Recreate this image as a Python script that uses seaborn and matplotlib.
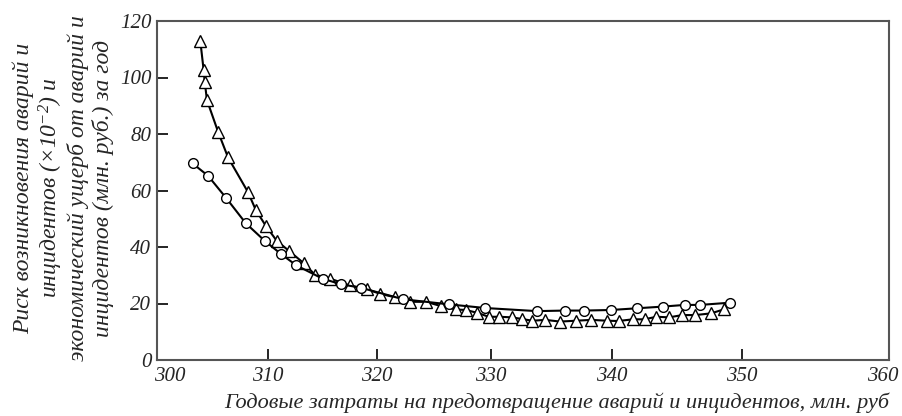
import numpy as np
import pandas as pd
import seaborn as sns
import matplotlib.pyplot as plt
from matplotlib.transforms import ScaledTranslation

sns.set_style("ticks")
plt.rcParams['font.family'] = ['Liberation Serif', 'DejaVu Serif']
plt.rcParams['font.style'] = 'italic'
plt.rcParams['mathtext.fontset'] = 'custom'
plt.rcParams['mathtext.rm'] = 'Liberation Serif'
plt.rcParams['mathtext.it'] = 'Liberation Serif:italic'

# кружки - экономический ущерб
circ_x = [303.2, 304.6, 306.2, 308.0, 309.7, 311.2, 312.6, 315.0, 316.7, 318.5,
          322.3, 326.3, 329.5, 333.8, 336.1, 337.7, 339.9, 341.9, 343.9, 345.6,
          346.8, 349.1]
circ_y = [69.6, 65.2, 57.5, 48.4, 42.2, 37.5, 33.5, 28.8, 26.8, 25.6,
          21.5, 19.7, 18.4, 17.3, 17.5, 17.5, 17.7, 18.3, 18.9, 19.5,
          19.5, 20.3]

# треугольники - риск
tri_x = [303.9, 304.2, 304.3, 304.5, 305.5, 306.4, 308.2, 308.9, 309.8, 310.8,
         311.9, 313.3, 314.3, 315.7, 317.5, 319.1, 320.3, 321.6, 322.9, 324.3,
         325.6, 326.9, 327.8, 328.8, 329.8, 330.7, 331.7, 332.6, 333.4, 334.5,
         335.7, 337.0, 338.3, 339.6, 340.5, 341.6, 342.5, 343.4, 344.4, 345.4,
         346.4, 347.6, 348.6]
tri_y = [113, 102.7, 98.5, 92, 80.8, 71.7, 59.4, 53.1, 47.5, 42.2,
         38.7, 34.2, 30.2, 28.8, 26.4, 25, 23.4, 22.2, 20.6, 20.6,
         19.1, 17.9, 17.7, 16.7, 15.3, 15.3, 15.1, 14.5, 13.9, 14.2,
         13.6, 13.9, 14.2, 13.9, 13.8, 14.4, 14.4, 15.3, 15.1, 15.9,
         15.9, 16.5, 17.9]

x_ticks = [300, 310, 320, 330, 340, 350, 360]
y_ticks = [0, 20, 40, 60, 80, 100, 120]

# шкала оси X в оригинале неравномерная
x_tick_pos = [0, 111, 220, 334, 455, 585, 732]


def fwd(v):
    return np.interp(v, x_ticks, x_tick_pos)


def inv(v):
    return np.interp(v, x_tick_pos, x_ticks)


df_c = pd.DataFrame({'x': circ_x, 'y': circ_y})
df_t = pd.DataFrame({'x': tri_x, 'y': tri_y})

fig = plt.figure(figsize=(9.02, 4.16), dpi=100)
ax = fig.add_axes([157 / 902, 56 / 416, 732 / 902, 339 / 416])
ax.set_xscale('function', functions=(fwd, inv))

sns.lineplot(data=df_t, x='x', y='y', sort=False, ax=ax, color='black', lw=1.5,
             marker='^', markersize=8, markerfacecolor='white',
             markeredgecolor='black', markeredgewidth=1.0)
sns.lineplot(data=df_c, x='x', y='y', sort=False, ax=ax, color='black', lw=1.5,
             marker='o', markersize=7, markerfacecolor='white',
             markeredgecolor='black', markeredgewidth=1.0)

ax.set_xlim(300, 360)
ax.set_ylim(0, 120)
ax.set_xticks(x_ticks)
ax.set_yticks(y_ticks)
ax.set_xticklabels([str(t) for t in x_ticks])
ax.set_yticklabels([str(t) for t in y_ticks])
ax.tick_params(direction='in', length=8, width=1.2, color='black',
               labelsize=15, pad=4)
ax.tick_params(axis='x', pad=5)
for s in ax.spines.values():
    s.set_color('#555555')
    s.set_linewidth(1.5)

# сдвиг крайних подписей оси X как в оригинале
xt = ax.xaxis.get_major_ticks()
xt[0].label1.set_transform(xt[0].label1.get_transform() +
                           ScaledTranslation(13 / 100, 0, fig.dpi_scale_trans))
xt[-1].label1.set_transform(xt[-1].label1.get_transform() +
                            ScaledTranslation(-6 / 100, 0, fig.dpi_scale_trans))

ax.set_xlabel('Годовые затраты на предотвращение аварий и инцидентов, млн. руб',
              fontsize=16)
ax.xaxis.set_label_coords(0.546, -0.095)
ax.set_ylabel('')

fig.text(63 / 902, 1 - 188 / 416,
         'Риск возникновения аварий и\n'
         'инцидентов $(\\times10^{-2})$ и\n'
         'экономический ущерб от аварий и\n'
         'инцидентов (млн. руб.) за год',
         rotation=90, ha='center', va='center', multialignment='center',
         fontsize=17, linespacing=1.15)

fig.savefig('out.png', dpi=100)
